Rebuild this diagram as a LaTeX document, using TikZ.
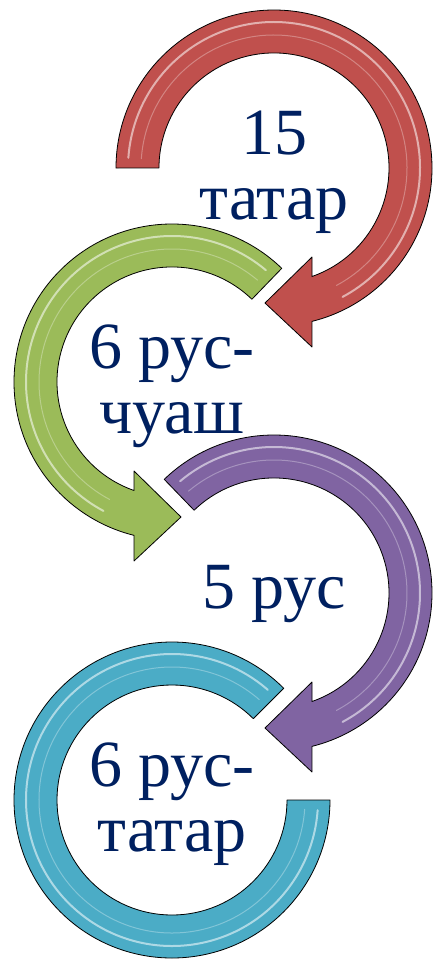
\documentclass[tikz,border=0pt]{standalone}
\usepackage{fontspec}
\setmainfont{Liberation Serif}
\definecolor{arrowred}{RGB}{192,80,77}
\definecolor{arrowgreen}{RGB}{155,187,89}
\definecolor{arrowpurple}{RGB}{128,100,162}
\definecolor{arrowblue}{RGB}{75,172,198}
\definecolor{labelcolor}{RGB}{0,32,96}

\begin{document}
\begin{tikzpicture}[x=1pt, y=1pt,
		% Arrow styles
		ring/.style={draw=black, line width=0.8pt, line join=round},
		redring/.style={ring, fill=arrowred},
		greenring/.style={ring, fill=arrowgreen},
		purplering/.style={ring, fill=arrowpurple},
		bluering/.style={ring, fill=arrowblue},
		gloss/.style={draw=white, line width=2pt, opacity=0.55, line cap=round},
		softgloss/.style={draw=white, line width=1pt, opacity=0.3, line cap=round},
		% Text styles
		ringlabel/.style={font=\fontsize{66}{65}\selectfont, text=labelcolor, align=center, inner sep=0pt}
		]
		
		\useasboundingbox (0,0) rectangle (433,-961);
		
		% Red arrow (top)
		\begin{scope}[shift={(274,-168)}]
			\draw[redring] (180:158) arc[start angle=180, end angle=-76.1, radius=158]
			-- (38,-179) -- (-9,-135) -- (38,-89) -- (38,-108.5)
			arc[start angle=-70.7, end angle=180, radius=115] -- cycle;
			\draw[gloss] (176:146) arc[start angle=176, end angle=-62, radius=146];
			\draw[softgloss] (176:133) arc[start angle=176, end angle=-62, radius=133];
		\end{scope}
		\node[ringlabel] (red_label) at (274,-172) {15\\татар};
		
		% Green arrow
		\begin{scope}[shift={(172,-382)}]
			\draw[greenring] (46:158) arc[start angle=46, end angle=256.1, radius=158]
			-- (-38,-179) -- (9,-135) -- (-38,-89) -- (-38,-108.5)
			arc[start angle=250.7, end angle=46, radius=115] -- cycle;
			\draw[gloss] (50:146) arc[start angle=50, end angle=242, radius=146];
			\draw[softgloss] (50:133) arc[start angle=50, end angle=242, radius=133];
		\end{scope}
		\node[ringlabel] (green_label) at (172,-386) {6 рус-\\чуаш};
		
		% Purple arrow
		\begin{scope}[shift={(274,-593)}]
			\draw[purplering] (134:158) arc[start angle=134, end angle=-76.1, radius=158]
			-- (38,-179) -- (-9,-135) -- (38,-89) -- (38,-108.5)
			arc[start angle=-70.7, end angle=134, radius=115] -- cycle;
			\draw[gloss] (130:146) arc[start angle=130, end angle=-62, radius=146];
			\draw[softgloss] (130:133) arc[start angle=130, end angle=-62, radius=133];
		\end{scope}
		\node[ringlabel] (purple_label) at (274,-594) {5 рус};
		
		% Blue ring (bottom)
		\begin{scope}[shift={(172,-800)}]
			\draw[bluering] (45:158) arc[start angle=45, end angle=360, radius=158]
			-- (0:115) arc[start angle=360, end angle=45, radius=115] -- cycle;
			\draw[gloss] (49:146) arc[start angle=49, end angle=356, radius=146];
			\draw[softgloss] (49:133) arc[start angle=49, end angle=356, radius=133];
		\end{scope}
		\node[ringlabel] (blue_label) at (172,-804) {6 рус-\\татар};
		
	\end{tikzpicture}
\end{document}
